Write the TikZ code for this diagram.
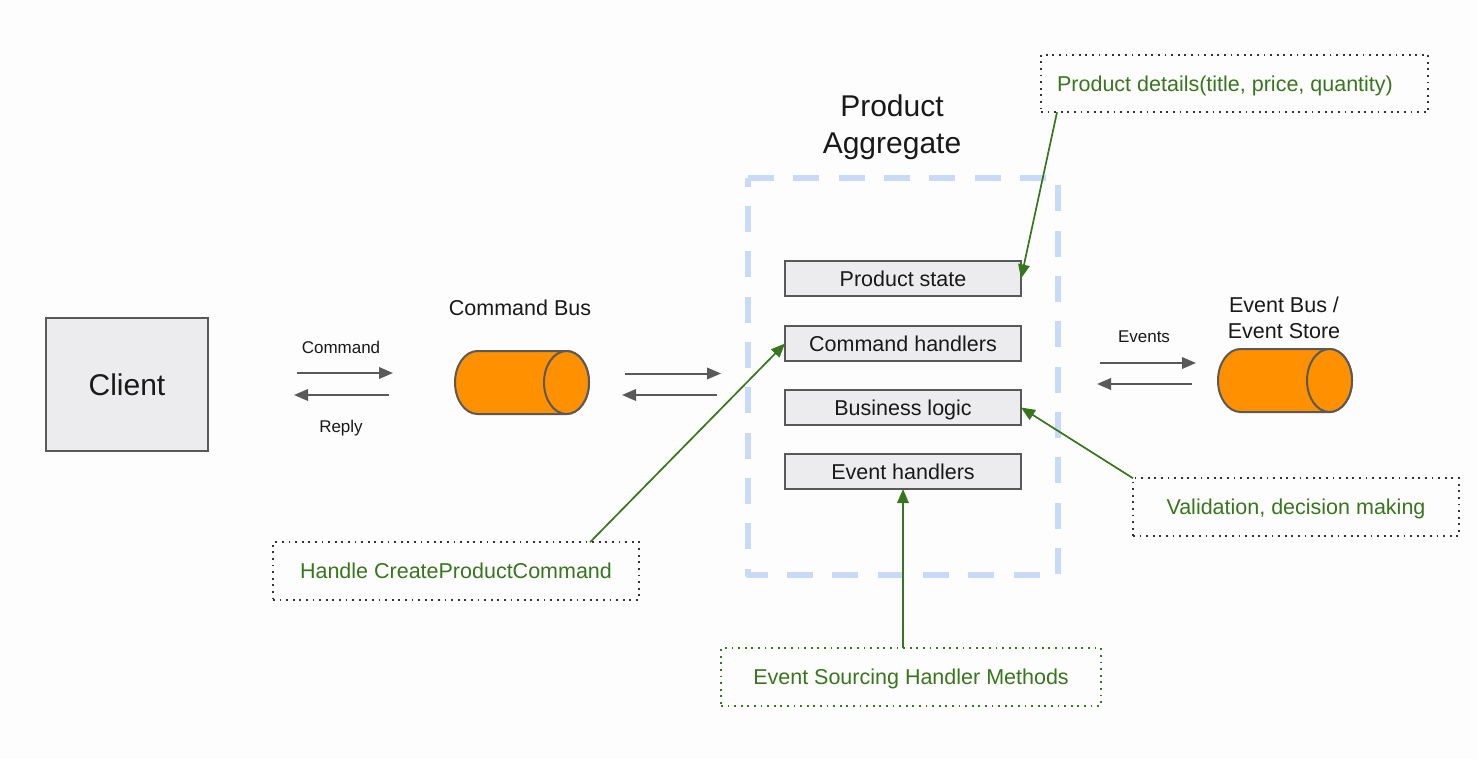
\documentclass[tikz,border=0pt]{standalone}
\usepackage{fontspec}
\setmainfont{Liberation Sans}
\usetikzlibrary{arrows.meta}
\definecolor{greenc}{HTML}{38761D}
\definecolor{grayc}{HTML}{595959}
\definecolor{boxfill}{HTML}{ECECEE}
\definecolor{orangec}{HTML}{FF9000}
\definecolor{dashblue}{HTML}{C9DAF8}
\definecolor{pagebg}{HTML}{FDFDFD}
\newcommand{\fs}[1]{\fontsize{#1}{#1}\selectfont}
\tikzset{
  every node/.style={inner sep=0pt,outer sep=0pt},
  label big/.style={font=\fs{30},align=center,text=black!90},
  label mid/.style={font=\fs{21.5},align=center,text=black!90},
  label small/.style={font=\fs{17},align=center,text=black!90},
  handler/.style={draw=grayc,line width=2pt,fill=boxfill,minimum width=236pt,minimum height=35pt,font=\fs{21.5},text=black!90,text height=15.4pt,text depth=0pt},
  note/.style={draw=black!80,line width=1.8pt,dash pattern=on 1.8pt off 4.8pt,minimum height=57.5pt,font=\fs{21.5},text=greenc,text height=15.4pt,text depth=0pt},
  pipebox/.style={minimum width=134pt,minimum height=63pt},
  pipeline/.style={draw=grayc,line width=2pt,fill=orangec},
  flow/.style={draw=grayc,line width=2pt,-{Triangle[length=14pt,width=11.5pt]}},
  callout/.style={draw=greenc,line width=1.7pt,-{Triangle[length=14pt,width=11.5pt]}}
}
\newcommand{\pipedraw}[1]{%
  \draw[pipeline] ([xshift=22.5pt]#1.north west) -- ([xshift=-22.5pt]#1.north east)
    arc[start angle=90,end angle=-90,x radius=22.5pt,y radius=31.5pt]
    -- ([xshift=22.5pt]#1.south west)
    arc[start angle=270,end angle=90,x radius=22.5pt,y radius=31.5pt] -- cycle;
  \draw[pipeline] ([xshift=-22.5pt]#1.east) ellipse[x radius=22.5pt,y radius=31.5pt];
}
\begin{document}
\begin{tikzpicture}[x=1pt,y=-1pt]
\useasboundingbox (0,0) rectangle (1477,759);
\fill[pagebg] (0,0) rectangle (1477,759);

% Aggregate container
\draw[dashblue,line width=6pt,line join=round,dash pattern=on 26pt off 19.33pt]
  (748,178) -- (1058,178) -- (1058,575) -- (748,575) -- cycle;

\node[draw=grayc,line width=2pt,fill=boxfill,minimum width=162pt,minimum height=133pt,font=\fs{30},text=black!90] (client) at (127,384.5) {Client};

\node[label small] (cmdlabel) at (341,347) {Command};
\node[label small] (replylabel) at (341,428) {Reply};
\node[label mid] (cmdbuslabel) at (520,308) {Command Bus};
\node[pipebox] (cmdbus) at (522,382.5) {};
\pipedraw{cmdbus}

\node[label big] (agglabel) at (892,127) {Product\\[7pt]Aggregate};

\node[handler] (pstate) at (903,278.5) {Product state};
\node[handler] (cmdh) at (903,343.5) {Command handlers};
\node[handler] (biz) at (903,407.5) {Business logic};
\node[handler] (evh) at (903,471.5) {Event handlers};

\node[label small] (eventslabel) at (1144,337) {Events};
\node[label mid] (eslabel) at (1284,318) {Event Bus /\\[4.5pt]Event Store};
\node[pipebox] (evbus) at (1285,380.5) {};
\pipedraw{evbus}

\node[note,minimum width=387pt] (pd) at (1234.5,83.5) {\hspace{-19pt}Product details(title, price, quantity)};
\node[note,minimum width=366pt] (hc) at (456,571) {Handle CreateProductCommand};
\node[note,minimum width=326pt] (val) at (1296,507) {Validation, decision making};
\node[note,draw=greenc,minimum width=380pt] (es) at (911,677) {Event Sourcing Handler Methods};

% Free ends of the message arrows
\coordinate (c1a) at (297,373); \coordinate (c1b) at (393,373);
\coordinate (c2a) at (389,395); \coordinate (c2b) at (294,395);
\coordinate (c3a) at (625,373.5); \coordinate (c3b) at (721,373.5);
\coordinate (c4a) at (717,395); \coordinate (c4b) at (622,395);
\coordinate (c5a) at (1100,363); \coordinate (c5b) at (1196,363);
\coordinate (c6a) at (1192,384); \coordinate (c6b) at (1097,384);

\draw[flow] (c1a) -- (c1b);
\draw[flow] (c2a) -- (c2b);
\draw[flow] (c3a) -- (c3b);
\draw[flow] (c4a) -- (c4b);
\draw[flow] (c5a) -- (c5b);
\draw[flow] (c6a) -- (c6b);

\draw[callout] ([xshift=16pt]pd.south west) -- (pstate.east);
\draw[callout] ([xshift=317pt]hc.north west) -- (cmdh.west);
\draw[callout] (val.north west) -- (biz.east);
\draw[callout] (es.north -| evh.south) -- (evh.south);
\end{tikzpicture}
\end{document}
